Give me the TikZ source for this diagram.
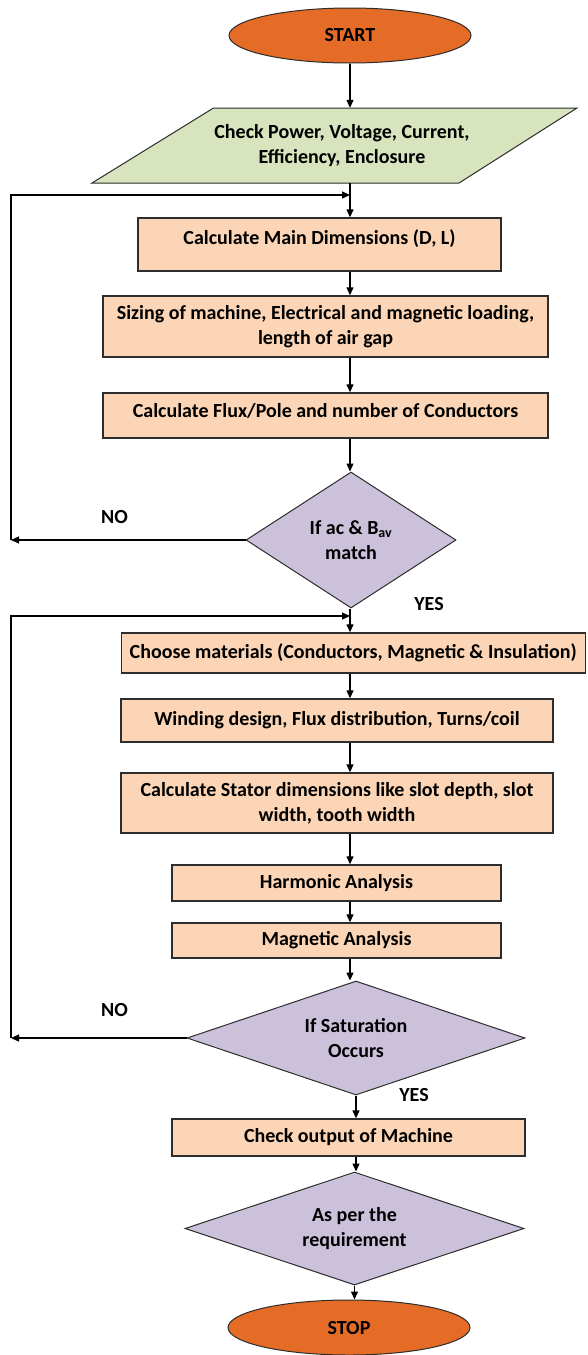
\documentclass[tikz,border=0pt]{standalone}
\usepackage{fontspec}
\setmainfont{Carlito}
\usetikzlibrary{shapes.geometric,arrows.meta}
\definecolor{startorange}{RGB}{228,108,38}
\definecolor{inputgreen}{RGB}{215,228,189}
\definecolor{procpeach}{RGB}{251,213,181}
\definecolor{declav}{RGB}{204,193,218}
\definecolor{edgegray}{RGB}{45,45,45}
\begin{document}
\begin{tikzpicture}[x=1pt,y=-1pt,
  every node/.style={font=\fontsize{20}{25}\selectfont\bfseries, text=black},
  term/.style={ellipse, draw=edgegray, fill=startorange, line width=1pt, minimum width=242, minimum height=55, inner sep=0},
  proc/.style={rectangle, draw=edgegray, fill=procpeach, line width=1.4pt, align=center, inner sep=0},
  dec/.style={diamond, draw=edgegray, fill=declav, line width=1pt, align=center, inner sep=0},
  arr/.style={draw=black, line width=1.3pt, -{Triangle[length=8pt,width=7pt]}},
  lbl/.style={inner sep=0}
]
\useasboundingbox (0,0) rectangle (587,1355);
\fill[white] (0,0) rectangle (587,1355);

\node[term] (start) at (350,35.5) {START};

\path[draw=edgegray, fill=inputgreen, line width=1pt] (92,183) -- (213.5,108) -- (577,108) -- (459,183) -- cycle;
\node[align=center, minimum height=75, inner sep=0] (input) at (342,145.5) {Check Power, Voltage, Current,\\Efficiency, Enclosure};

\node[proc, minimum width=363, minimum height=53] (b1) at (319.5,244.5) {\raisebox{6pt}[\height][\depth]{Calculate Main Dimensions (D, L)}};
\node[proc, minimum width=445, minimum height=61] (b2) at (325.5,326.5) {Sizing of machine, Electrical and magnetic loading,\\length of air gap};
\node[proc, minimum width=445, minimum height=45] (b3) at (325.5,415.5) {\raisebox{5pt}[\height][\depth]{Calculate Flux/Pole and number of Conductors}};
\node[dec, aspect=1.55, minimum width=210, minimum height=136] (d1) at (351,540) {If ac \& B\textsubscript{av}\\match};

\node[proc, minimum width=464, minimum height=40] (b4) at (353.25,653) {Choose materials (Conductors, Magnetic \& Insulation)};
\node[proc, minimum width=432, minimum height=43] (b5) at (337,720.5) {Winding design, Flux distribution, Turns/coil};
\node[proc, minimum width=432, minimum height=60] (b6) at (337,803) {Calculate Stator dimensions like slot depth, slot\\width, tooth width};
\node[proc, minimum width=329, minimum height=36] (b7) at (336.5,883) {Harmonic Analysis};
\node[proc, minimum width=329, minimum height=35] (b8) at (336.5,940.5) {Magnetic Analysis};
\node[dec, aspect=3, minimum width=338, minimum height=114] (d2) at (356,1038) {If Saturation\\Occurs};
\node[proc, minimum width=353, minimum height=37] (b9) at (348.5,1137.5) {Check output of Machine};
\node[dec, aspect=3, minimum width=339, minimum height=113] (d3) at (354.5,1228.5) {As per the\\requirement};
\node[term] (stop) at (349,1327.5) {STOP};

\node[lbl] (no1) at (114.5,517) {NO};
\node[lbl] (yes1) at (429,604) {YES};
\node[lbl] (no2) at (114.5,1010) {NO};
\node[lbl] (yes2) at (414,1095) {YES};

\draw[arr] (start.south) -- (input.north -| start);
\draw[arr] (input.south -| start) -- (b1.north -| start);
\draw[arr] (b1.south -| start) -- (b2.north -| start);
\draw[arr] (b2.south -| start) -- (b3.north -| start);
\draw[arr] (b3.south -| start) -- (d1.north -| start);
\draw[arr] (d1.south -| start) -- (b4.north -| start);
\draw[arr] (b4.south -| start) -- (b5.north -| start);
\draw[arr] (b5.south -| start) -- (b6.north -| start);
\draw[arr] (b6.south -| start) -- (b7.north -| start);
\draw[arr] (b7.south -| start) -- (b8.north -| start);
\draw[arr] (b8.south -| start) -- (d2.north -| start);
\draw[arr] (d2.south) -- (b9.north -| d2);
\draw[arr] (b9.south -| d2) -- (d3.north -| d2);
\draw[arr] (d3.south) -- (stop.north -| d3);

\coordinate (left1) at (11,540);
\coordinate (join1) at (350,195);
\draw[arr] (d1.west) -- (left1);
\draw[arr] (left1) -- (left1 |- join1) -- (join1);

\coordinate (left2) at (11,1038);
\coordinate (join2) at (350,616);
\draw[arr] (d2.west) -- (left2);
\draw[arr] (left2) -- (left2 |- join2) -- (join2);
\end{tikzpicture}
\end{document}
